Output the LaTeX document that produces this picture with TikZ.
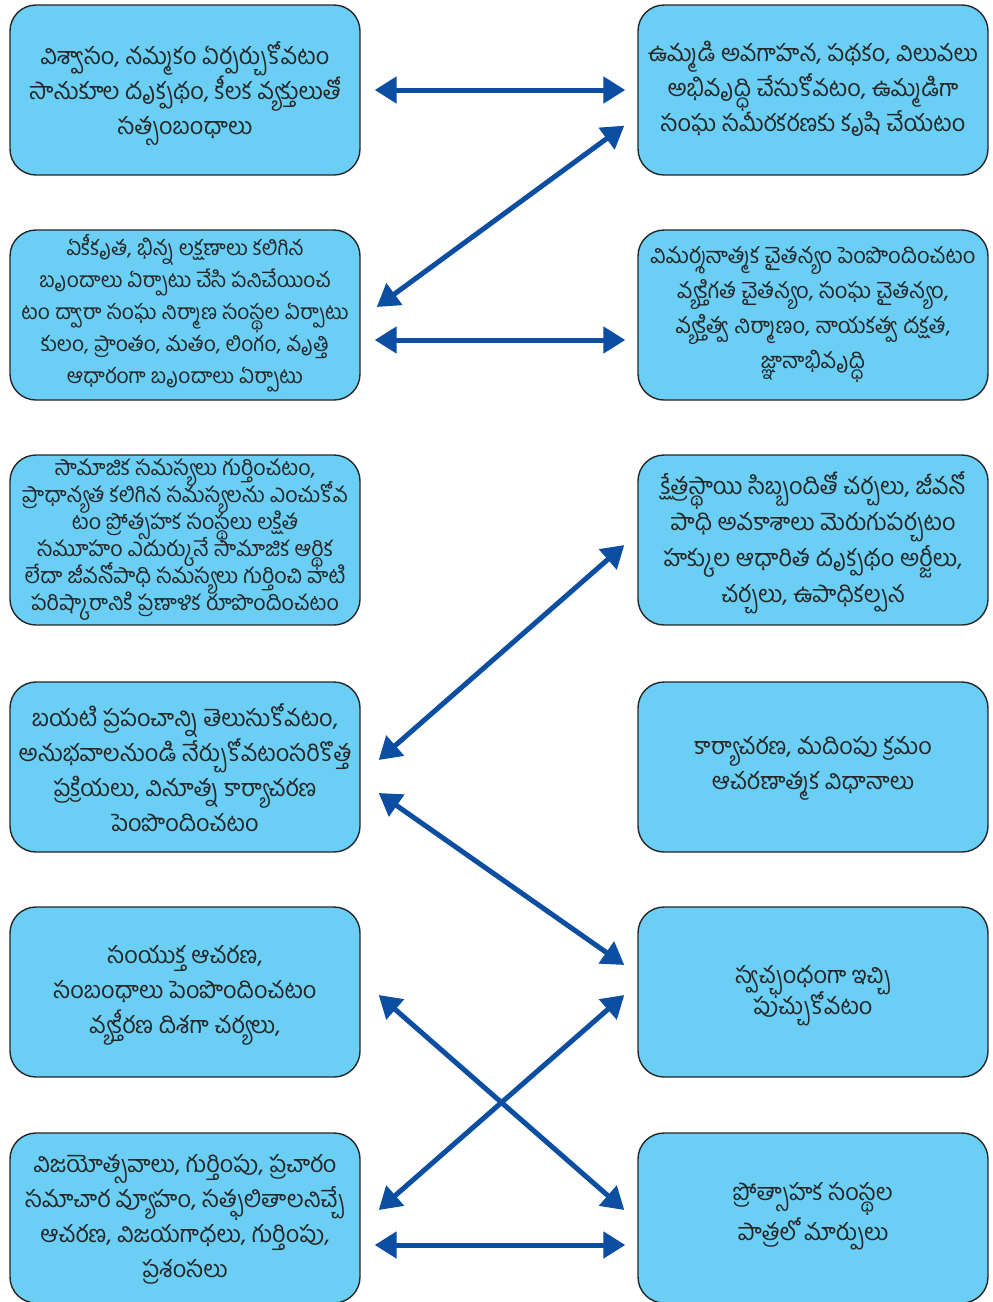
\documentclass[tikz,border=0pt]{standalone}
\usepackage{fontspec}
\newfontfamily\telugu[Script=Telugu]{Hind Guntur}
\usetikzlibrary{arrows.meta}
\definecolor{boxblue}{HTML}{6ACEF5}
\definecolor{arrblue}{HTML}{0B4EA2}
\definecolor{txt}{HTML}{262626}
\newcommand\bx[2][-5pt]{\raisebox{#1}[0pt][0pt]{\parbox[c]{346pt}{\lineskiplimit=-\maxdimen\centering #2}}}
\begin{document}
\begin{tikzpicture}[x=1pt,y=-1pt,
  box/.style={draw=black!85, line width=1.4pt, fill=boxblue, rounded corners=26pt,
    minimum width=350pt, minimum height=170pt, text=txt,
    inner sep=0pt, font=\telugu\fontsize{23.5}{35}\selectfont},
  fL2/.style={font=\telugu\fontsize{21}{32}\selectfont},
  fR2/.style={font=\telugu\fontsize{22}{35}\selectfont},
  fL3/.style={font=\telugu\fontsize{21.5}{27}\selectfont},
  fR3/.style={font=\telugu\fontsize{23.5}{36}\selectfont},
  fR5/.style={font=\telugu\fontsize{23.5}{31}\selectfont},
  fR6/.style={font=\telugu\fontsize{23.5}{40}\selectfont},
  arr/.style={draw=arrblue, line width=5pt,
    {Triangle[width=26pt,length=22pt]}-{Triangle[width=26pt,length=22pt]}}]
\useasboundingbox (0,0) rectangle (993,1302);

\node[box] (L1) at (185,90) {\bx[-10pt]{విశ్వాసం, నమ్మకం ఏర్పర్చుకోవటం\\సానుకూల దృక్పథం, కీలక వ్యక్తులుతో\\సత్సంబంధాలు}};
\node[box] (R1) at (813,90) {\bx{ఉమ్మడి అవగాహన, పథకం, విలువలు\\అభివృద్ధి చేసుకోవటం, ఉమ్మడిగా\\సంఘ సమీరకరణకు కృషి చేయటం}};
\node[box,fL2] (L2) at (185,315) {\bx[-3pt]{ఏకీకృత, భిన్న లక్షణాలు కలిగిన\\బృందాలు ఏర్పాటు చేసి పనిచేయించ\\టం ద్వారా సంఘ నిర్మాణ సంస్థల ఏర్పాటు\\కులం, ప్రాంతం, మతం, లింగం, వృత్తి\\ఆధారంగా బృందాలు ఏర్పాటు}};
\node[box,fR2] (R2) at (813,315) {\bx{విమర్శనాత్మక చైతన్యం పెంపొందించటం\\వ్యక్తిగత చైతన్యం, సంఘ చైతన్యం,\\వ్యక్తిత్వ నిర్మాణం, నాయకత్వ దక్షత,\\జ్ఞానాభివృద్ధి}};
\node[box,fL3] (L3) at (185,540) {\bx{సామాజిక సమస్యలు గుర్తించటం,\\ప్రాధాన్యత కలిగిన సమస్యలను ఎంచుకోవ\\టం ప్రోత్సహక సంస్థలు లక్షిత\\సమూహం ఎదుర్కునే సామాజిక ఆర్థిక\\లేదా జీవనోపాధి సమస్యలు గుర్తించి వాటి\\పరిష్కారానికి ప్రణాళిక రూపొందించటం}};
\node[box,fR3] (R3) at (813,540) {\bx[-9pt]{క్షేత్రస్థాయి సిబ్బందితో చర్చలు, జీవనో\\పాధి అవకాశాలు మెరుగుపర్చటం\\హక్కుల ఆధారిత దృక్పథం అర్జీలు,\\చర్చలు, ఉపాధికల్పన}};
\node[box] (L4) at (185,767) {\bx[-7pt]{బయటి ప్రపంచాన్ని తెలుసుకోవటం,\\అనుభవాలనుండి నేర్చుకోవటంసరికొత్త\\ప్రక్రియలు, వినూత్న కార్యాచరణ\\పెంపొందించటం}};
\node[box] (R4) at (813,767) {\bx[-8pt]{కార్యాచరణ, మదింపు క్రమం\\ఆచరణాత్మక విధానాలు}};
\node[box] (L5) at (185,992) {\bx[-10pt]{సంయుక్త ఆచరణ,\\సంబంధాలు పెంపొందించటం\\వ్యక్తీరణ దిశగా చర్యలు,}};
\node[box,fR5] (R5) at (813,992) {\bx[-10pt]{స్వచ్ఛంధంగా ఇచ్చి\\పుచ్చుకోవటం}};
\node[box] (L6) at (185,1218) {\bx[-8pt]{విజయోత్సవాలు, గుర్తింపు, ప్రచారం\\సమాచార వ్యూహం, సత్ఫలితాలనిచ్చే\\ఆచరణ, విజయగాధలు, గుర్తింపు,\\ప్రశంసలు}};
\node[box,fR6] (R6) at (813,1218) {\bx{ప్రోత్సాహక సంస్థల\\పాత్రలో మార్పులు}};

\draw[arr] ([xshift=14pt]L1.east) -- ([xshift=-12pt]R1.west);
\draw[arr] ([xshift=-13pt,yshift=50pt]R1.south west) -- ([xshift=16pt,yshift=8pt]L2.east);
\draw[arr] ([xshift=14pt,yshift=-25pt]L2.east) -- ([xshift=-12pt,yshift=-25pt]R2.west);
\draw[arr] ([xshift=-13pt,yshift=-5pt]R3.west) -- ([xshift=18pt,yshift=7pt]L4.east);
\draw[arr] ([xshift=18pt,yshift=-26pt]L4.east) -- ([xshift=-13pt,yshift=27pt]R5.west);
\draw[arr] ([xshift=18pt,yshift=-3pt]L5.east) -- ([xshift=-13pt,yshift=8pt]R6.west);
\draw[arr] ([xshift=-13pt,yshift=-3pt]R5.west) -- ([xshift=18pt,yshift=8pt]L6.east);
\draw[arr] ([xshift=14pt,yshift=-27pt]L6.east) -- ([xshift=-12pt,yshift=-27pt]R6.west);
\end{tikzpicture}
\end{document}
